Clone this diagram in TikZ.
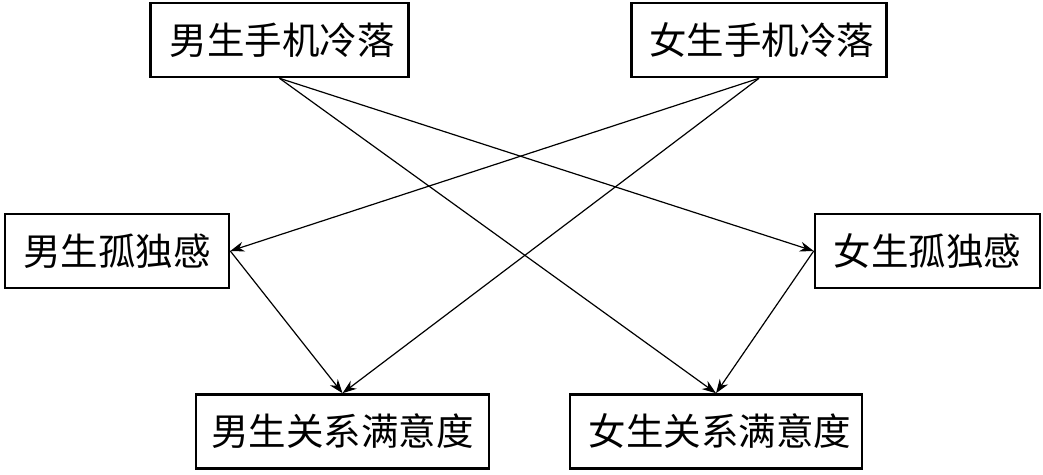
\documentclass[tikz,border=0pt]{standalone}
\usepackage{fontspec}
\usepackage{tikz}
\usetikzlibrary{arrows,arrows.meta,positioning}
\newfontfamily\cjk{Noto Sans CJK SC}

\begin{document}
\begin{tikzpicture}[x=1pt, y=1pt, >={Stealth[length=14pt,width=10pt]},
		box/.style={draw, line width=2.6pt, inner sep=0pt, minimum height=74pt,
			font=\cjk\fontsize{37.5}{42}\selectfont},
		link/.style={->, line width=1.2pt}]
		\useasboundingbox (0,0) rectangle (1043,474);

		% Phone neglect
		\node[box, minimum width=258pt] (mpn) at (279.5,434) {\hspace{5pt}男生手机冷落};
		\node[box, minimum width=255pt] (fpn) at (759,434) {\hspace{5pt}女生手机冷落};

		% Loneliness
		\node[box, minimum width=224pt] (mlo) at (117,223) {男生孤独感};
		\node[box, minimum width=225pt] (flo) at (927.5,223) {女生孤独感};

		% Relationship satisfaction
		\node[box, minimum width=293pt] (mrs) at (342.5,42.5) {男生关系满意度};
		\node[box, minimum width=292pt] (frs) at (716,42.5) {\hspace{8pt}女生关系满意度};

		% Edges
		\draw (mpn.south) edge[link] (flo.west);
		\draw (mpn.south) edge[link] (frs.north);
		\draw (fpn.south) edge[link] (mlo.east);
		\draw (fpn.south) edge[link] (mrs.north);
		\draw (mlo.east) edge[link] (mrs.north);
		\draw (flo.west) edge[link] (frs.north);
	\end{tikzpicture}
\end{document}
